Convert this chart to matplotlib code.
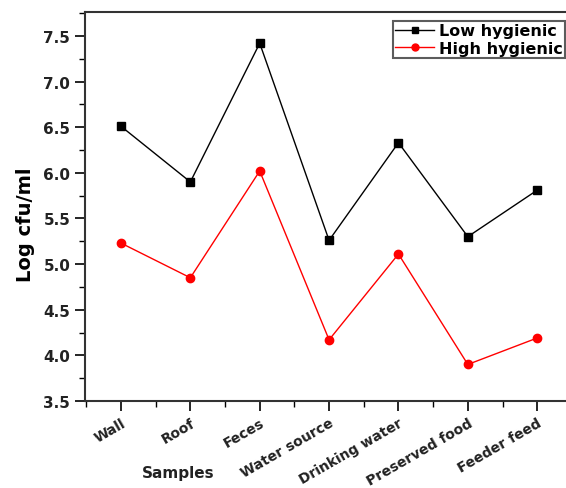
import numpy as np
import matplotlib; matplotlib.use("Agg")
import matplotlib.pyplot as plt
from matplotlib.ticker import MultipleLocator

samples = ["Wall", "Roof", "Feces", "Water source", "Drinking water",
           "Preserved food", "Feeder feed"]
low_hyg  = [6.51, 5.90, 7.42, 5.26, 6.33, 5.30, 5.81]
high_hyg = [5.23, 4.85, 6.02, 4.17, 5.11, 3.90, 4.19]

fig = plt.figure(figsize=(5.66, 4.89), dpi=100)
ax = fig.add_axes([0.150, 0.178, 0.88, 0.795])

x = np.arange(len(samples))
ax.plot(x, low_hyg, color="black", lw=1, marker="s", ms=6, label="Low hygienic")
ax.plot(x, high_hyg, color="red", lw=1, marker="o", ms=6, label="High hygienic")

ax.set_xlim(-0.52, 6.66)
ax.set_ylim(3.5, 7.76)
ax.set_xticks(x)
ax.set_xticklabels(samples, rotation=30, ha="right", rotation_mode="anchor",
                   fontsize=10, fontweight="bold", color="#222222")
ax.xaxis.set_minor_locator(MultipleLocator(0.5))
ax.yaxis.set_major_locator(MultipleLocator(0.5))
ax.yaxis.set_minor_locator(MultipleLocator(0.25))
ax.yaxis.set_major_formatter(plt.FormatStrFormatter("%.1f"))
ax.tick_params(axis="y", labelsize=11, labelcolor="#222222")
ax.tick_params(which="major", direction="out", length=7, width=1.2)
ax.tick_params(which="minor", direction="out", length=4, width=1)
for lab in ax.get_yticklabels():
    lab.set_fontweight("bold")
for s in ax.spines.values():
    s.set_linewidth(1.5); s.set_color("#333333")

ax.set_ylabel("Log cfu/ml", fontsize=14, fontweight="bold")
ax.yaxis.set_label_coords(-0.10, 0.455)
ax.text(0.25, 0.022, "Samples", transform=fig.transFigure, fontsize=11,
        fontweight="bold", color="#222222")

leg = ax.legend(loc="upper right", bbox_to_anchor=(0.998, 0.955),
                bbox_transform=fig.transFigure,
                prop={"weight": "bold", "size": 11.5}, frameon=True, fancybox=False,
                borderpad=0.15, handlelength=2.4, handletextpad=0.3, labelspacing=0.15,
                borderaxespad=0)
leg.get_frame().set_edgecolor("#333333")
leg.get_frame().set_linewidth(1.5)
for h in leg.legend_handles:
    h.set_markersize(5)

fig.savefig("out.png", dpi=100)
